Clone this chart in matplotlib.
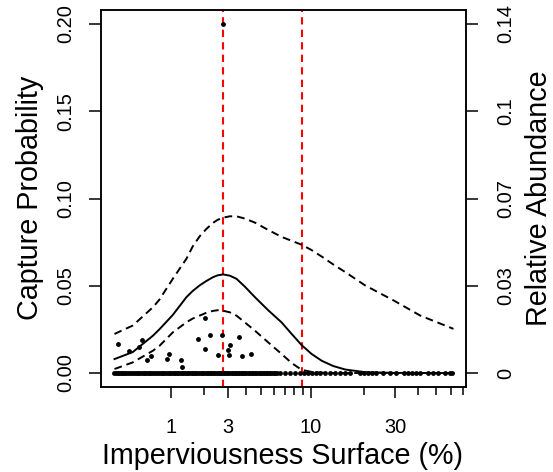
import numpy as np
import matplotlib
matplotlib.use("Agg")
import matplotlib.pyplot as plt

plt.rcParams["font.family"] = ["Liberation Sans", "DejaVu Sans"]

# fitted capture probability along imperviousness (%)
curve_x = [0, 0.25, 0.6, 0.73, 1.04, 1.41, 1.6, 1.83, 2.07, 2.33, 2.53,
           2.77, 3.09, 3.44, 3.92, 4.56, 5.54, 6.71, 7.7, 8.85, 10.1, 11.6,
           13.5, 15.8, 20.4, 29.3, 41, 62]
fit_mean = [0.008, 0.012, 0.0214, 0.0250, 0.0333, 0.0435, 0.0470, 0.0502,
            0.0527, 0.0549, 0.0560, 0.0565, 0.0558, 0.054, 0.0495, 0.0435,
            0.036, 0.029, 0.0225, 0.016, 0.011, 0.007, 0.004, 0.002, 0.0005,
            0.0001, 0.0, 0.0]
fit_upper = [0.0224, 0.0272, 0.0377, 0.042, 0.054, 0.0655, 0.0725, 0.0783,
             0.0825, 0.0860, 0.0878, 0.0890, 0.0898, 0.0898, 0.0885, 0.0862,
             0.0820, 0.0780, 0.0758, 0.0735, 0.0705, 0.0667, 0.0622, 0.0578,
             0.0502, 0.0416, 0.0329, 0.0253]
fit_lower = [0.0023, 0.0061, 0.0128, 0.0155, 0.0233, 0.0291, 0.0312, 0.0329,
             0.0345, 0.0356, 0.0360, 0.0357, 0.0348, 0.0329, 0.029, 0.0243,
             0.0176, 0.0109, 0.0058, 0.0018, 0.0007, 0.0002, 0.0, 0.0, 0.0,
             0.0, 0.0, 0.0]

# sites with captures
site_x = [0.04, 0.2, 0.345, 0.403, 0.484, 0.553, 0.897, 0.936, 1.244, 1.28,
          1.773, 2.011, 2.036, 2.2, 2.545, 2.74, 2.98, 3.09, 3.06, 3.58,
          3.78, 4.29, 2.75]
site_p = [0.0167, 0.0128, 0.0151, 0.019, 0.0075, 0.0099, 0.008, 0.0109,
          0.0075, 0.0032, 0.0195, 0.0314, 0.0138, 0.0218, 0.0103, 0.0218,
          0.0134, 0.0163, 0.0105, 0.0209, 0.0099, 0.0109, 0.2]

# sites with no captures
zero_x = [0, 0.02, 0.04, 0.06, 0.08, 0.1, 0.12, 0.14, 0.16, 0.19, 0.22,
          0.25, 0.28, 0.31, 0.34, 0.37, 0.4, 0.43, 0.46, 0.49, 0.52, 0.55,
          0.58, 0.62, 0.66, 0.7, 0.74, 0.78, 0.82, 0.86, 0.9, 0.94, 0.98,
          1.02, 1.06, 1.1, 1.14, 1.18, 1.22, 1.27, 1.32, 1.37, 1.42, 1.47,
          1.52, 1.57, 1.62, 1.67, 1.72, 1.78, 1.84, 1.9, 1.96, 2.02, 2.08,
          2.14, 2.2, 2.26, 2.32, 2.39, 2.46, 2.53, 2.6, 2.67, 2.74, 2.81,
          2.88, 2.95, 3.02, 3.1, 3.18, 3.26, 3.34, 3.42, 3.5, 3.59, 3.68,
          3.77, 3.86, 3.95, 4.05, 4.15, 4.25, 4.35, 4.45, 4.56, 4.67, 4.78,
          4.89, 5.0, 5.12, 5.24, 5.36, 5.48, 5.6, 5.73, 5.86, 6.0, 6.14,
          6.28, 6.55, 7.03, 7.54, 8.08, 8.65, 9.14, 9.65, 10.18, 10.74,
          11.34, 12.11, 12.94, 13.83, 14.76, 15.76, 16.82, 19.14, 20.15,
          21.22, 22.33, 23.51, 25.7, 28.09, 30.31, 33.54, 35.28, 37.1, 39.02,
          41.03, 45.36, 48.29, 51.42, 56.12, 59.73, 61.2]

thresholds = [2.75, 8.9]

xticks_major = [1, 3, 10, 30]
xticks_minor = [2, 4, 5, 6, 7, 8, 9, 20, 40, 50, 60, 70]
yticks = [0.0, 0.05, 0.10, 0.15, 0.20]
ylabels_left = ["0.00", "0.05", "0.10", "0.15", "0.20"]
ylabels_right = ["0", "0.03", "0.07", "0.1", "0.14"]


def fwd(x):
    return np.log10(np.asarray(x, dtype=float) + 1)


def inv(y):
    return 10 ** np.asarray(y, dtype=float) - 1


fig = plt.figure(figsize=(5.53, 4.72), dpi=100)
ax = fig.add_axes([101 / 553, 85 / 472, 365 / 553, 377 / 472])
ax.set_xscale("function", functions=(fwd, inv))

for t in thresholds:
    ax.axvline(t, color="red", lw=1.5, dashes=(3.5, 2.5), zorder=1)

ax.plot(zero_x, [0] * len(zero_x), "o", color="black", ms=3.5, mew=0, zorder=2)
ax.plot(site_x, site_p, "o", color="black", ms=3.5, mew=0, zorder=2)

ax.plot(curve_x, fit_mean, color="black", lw=1.4, zorder=3)
ax.plot(curve_x, fit_upper, color="black", lw=1.4, dashes=(4, 2.5), zorder=3)
ax.plot(curve_x, fit_lower, color="black", lw=1.4, dashes=(4, 2.5), zorder=3)

ax.set_xlim(-0.152, 72.4)
ax.set_ylim(-0.008, 0.208)

ax.set_xticks(xticks_major)
ax.set_xticklabels([str(v) for v in xticks_major], fontsize=14.4)
ax.set_xticks(xticks_minor, minor=True)
ax.xaxis.set_minor_formatter(plt.NullFormatter())
ax.tick_params(axis="x", which="major", length=8, width=1.1, pad=14)
ax.tick_params(axis="x", which="minor", length=5.5, width=1.1)

ax.set_yticks(yticks)
ax.set_yticklabels(ylabels_left, rotation=90, va="center", fontsize=14.4)
ax.tick_params(axis="y", length=8.6, width=1.1, pad=10)
ax.yaxis.set_minor_locator(plt.NullLocator())

ax2 = ax.twinx()
ax2.set_ylim(ax.get_ylim())
ax2.set_yticks(yticks)
ax2.set_yticklabels(ylabels_right, rotation=90, va="center", fontsize=14.4)
ax2.tick_params(axis="y", length=8.6, width=1.1, pad=13.5)

for a in (ax, ax2):
    for s in a.spines.values():
        s.set_linewidth(1.1)

fig.text(30 / 553, 1 - 198 / 472, "Capture Probability", rotation=90,
         ha="center", va="center", fontsize=20.7)
fig.text(539 / 553, 1 - 198 / 472, "Relative Abundance", rotation=90,
         ha="center", va="center", fontsize=20.7)
fig.text(283 / 553, 1 - 456 / 472, "Imperviousness Surface (%)",
         ha="center", va="center", fontsize=20.7)

fig.savefig("out.png", dpi=100)
